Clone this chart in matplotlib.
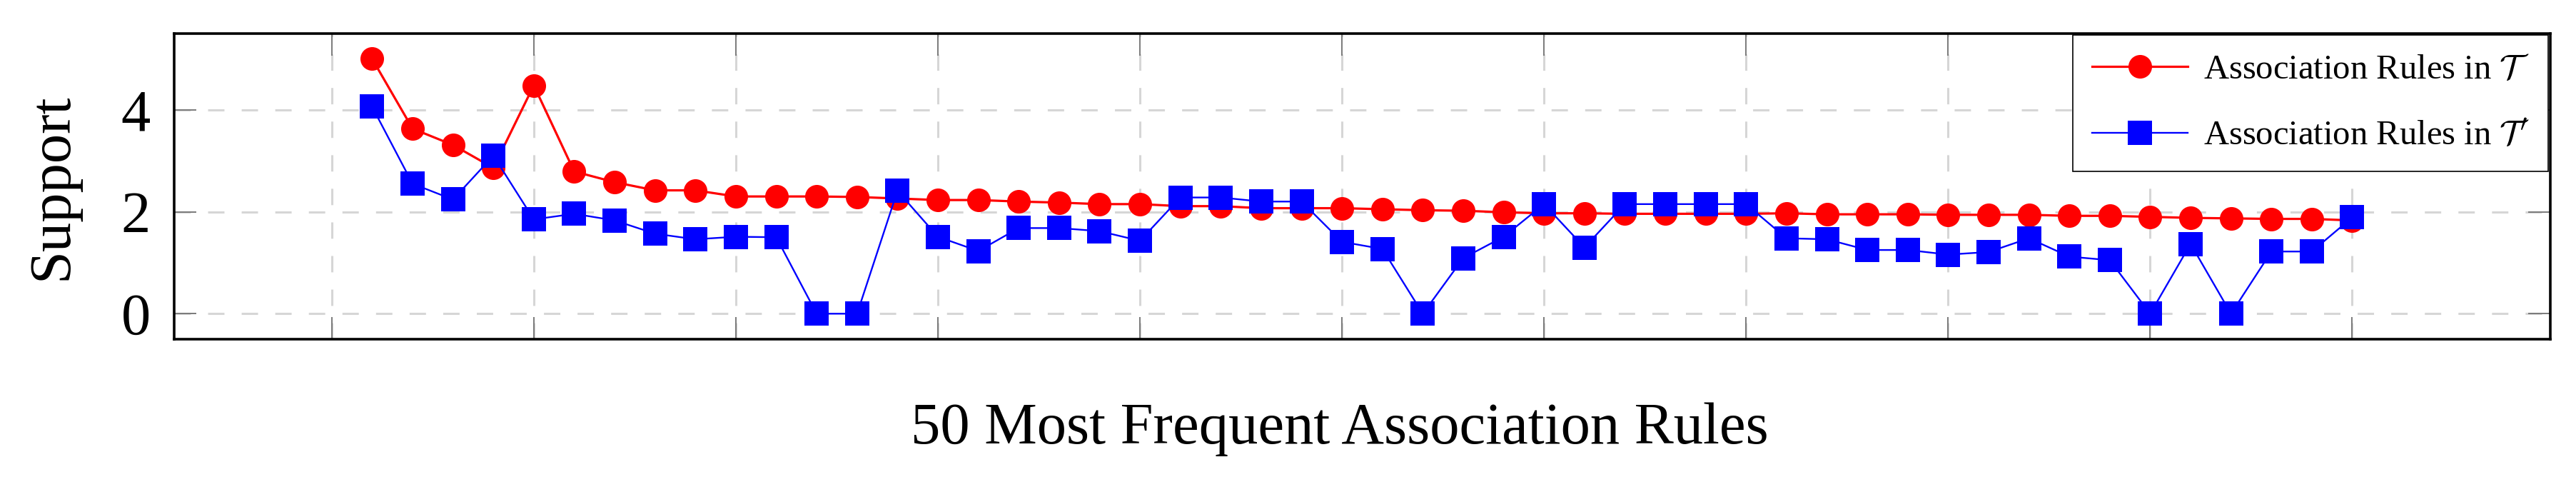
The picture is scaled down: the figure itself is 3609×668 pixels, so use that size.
"""Support of the 50 most frequent association rules in T and T'."""
import matplotlib
matplotlib.use('Agg')
import matplotlib.pyplot as plt

matplotlib.rcParams['font.family'] = ['Liberation Serif', 'DejaVu Serif']
matplotlib.rcParams['mathtext.fontset'] = 'cm'

# rule rank (x axis)
rules = list(range(1, 51))

# support of each rule in T
support_T = [5.00, 3.63, 3.31, 2.86, 4.48, 2.79, 2.58, 2.42, 2.42, 2.30,
             2.30, 2.30, 2.29, 2.26, 2.23, 2.23, 2.20, 2.18, 2.15, 2.15,
             2.11, 2.11, 2.07, 2.07, 2.07, 2.05, 2.03, 2.02, 1.99, 1.97,
             1.97, 1.96, 1.96, 1.96, 1.96, 1.97, 1.95, 1.95, 1.95, 1.94,
             1.94, 1.94, 1.92, 1.92, 1.90, 1.88, 1.87, 1.86, 1.86, 1.83]

# support of the same rules in T'
support_Tp = [4.06, 2.55, 2.24, 3.10, 1.85, 1.96, 1.83, 1.57, 1.46, 1.51,
              1.50, 0.00, 0.00, 2.41, 1.51, 1.23, 1.68, 1.68, 1.62, 1.43,
              2.28, 2.28, 2.20, 2.20, 1.41, 1.27, 0.00, 1.09, 1.51, 2.15,
              1.30, 2.15, 2.15, 2.15, 2.15, 1.48, 1.46, 1.25, 1.25, 1.16,
              1.21, 1.48, 1.12, 1.05, 0.00, 1.37, 0.00, 1.22, 1.22, 1.89]

labels = ['Association Rules in $\\mathcal{T}$',
          "Association Rules in $\\mathcal{T}'$"]

fig = plt.figure(figsize=(36.09, 6.68), dpi=100)
ax = fig.add_axes([0.0676, 0.2889, 0.9224, 0.6412])

ax.plot(rules, support_T, color='#ff0000', linewidth=2.3, marker='o',
        markersize=23.8, markeredgewidth=0, label=labels[0])
ax.plot(rules, support_Tp, color='#0000ff', linewidth=1.7, marker='s',
        markersize=25, markeredgewidth=0, label=labels[1])

ax.set_xlim(-3.9, 54.9)
ax.set_ylim(-0.5, 5.5)
ax.set_xticks(range(0, 51, 5))
ax.set_yticks([0, 2, 4])

ax.set_axisbelow(True)
ax.grid(True, color='#d6d6d6', linewidth=2.2, linestyle=(0, (7.5, 7.9)))
ax.tick_params(direction='in', length=22.5, width=1.4, color='#7a7a7a',
               top=True, right=True, labelbottom=False, labelsize=59.5, pad=24)
for sp in ax.spines.values():
    sp.set_linewidth(2.6)

ax.set_ylabel('Support', fontsize=59.5)
ax.yaxis.set_label_coords(-0.0397, 0.5)
ax.set_xlabel('50 Most Frequent Association Rules', fontsize=59.5)
ax.xaxis.set_label_coords(0.4905, -0.207)

leg = ax.legend(loc='upper right', bbox_to_anchor=(1, 1), borderaxespad=0.05,
                fontsize=35, fancybox=False, framealpha=1, edgecolor='black',
                handlelength=2.76, handletextpad=0.45, labelspacing=1.0,
                borderpad=0.55)
leg.get_frame().set_linewidth(1.2)

fig.savefig('out.png', dpi=100)
plt.close()
